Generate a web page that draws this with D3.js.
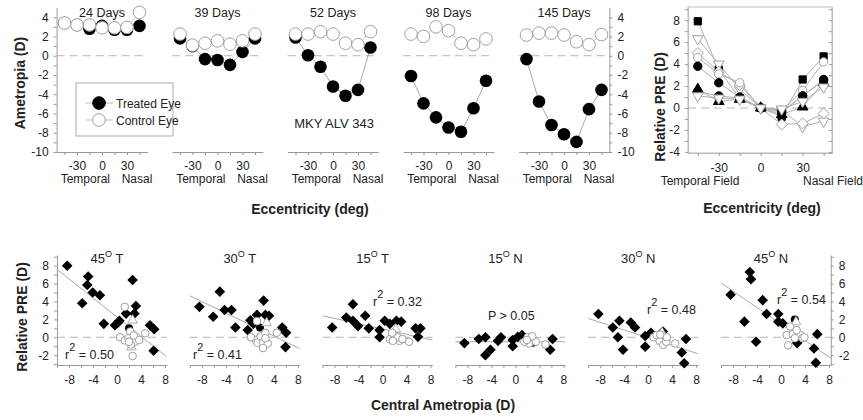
<!DOCTYPE html>
<html>
<head>
<meta charset="utf-8">
<script src="https://cdn.jsdelivr.net/npm/d3@7"></script>
<style>
body { margin: 0; background: #fff; }
text { font-family: "Liberation Sans", Arial, sans-serif; fill: #222; }
</style>
</head>
<body>
<div id="main"></div>
<script>
// ---- top row : ametropia vs eccentricity ----
const eccentricity = [-45, -30, -15, 0, 15, 30, 45];
const dayLabels = ["24 Days", "39 Days", "52 Days", "98 Days", "145 Days"];
const treatedEye = [
    [3.4, 3.2, 2.8, 3.1, 2.7, 2.7, 3.1],
    [1.8, 1.0, -0.35, -0.45, -0.95, 0.4, 1.8],
    [1.9, 0.05, -1.15, -3.2, -4.15, -3.55, 0.85],
    [-2.1, -4.95, -6.4, -7.45, -7.9, -5.45, -2.6],
    [-0.35, -4.75, -7.2, -8.15, -8.95, -5.55, -3.55]
];
const controlEye = [
    [3.4, 3.2, 3.2, 2.9, 2.9, 2.95, 4.5],
    [2.25, 1.1, 1.3, 1.55, 1.2, 1.55, 2.25],
    [2.25, 2.25, 2.5, 2.25, 1.3, 1.15, 2.5],
    [2.25, 2.0, 3.0, 2.6, 1.3, 1.15, 1.75],
    [2.15, 2.35, 2.35, 2.15, 1.45, 1.15, 2.2]
];

// ---- top right : relative PRE ----
const relativePRE = [
    [7.9, 3.5, 0.9, 0, -0.8, 2.6, 4.7],
    [6.3, 4.0, 1.7, 0, -0.2, -1.7, -1.2],
    [5.0, 3.3, 2.1, 0, -1.5, -1.4, -0.5],
    [4.6, 3.1, 2.3, 0, -0.2, 1.6, 4.2],
    [3.8, 2.3, 1.0, 0, -0.4, 1.1, 2.6],
    [1.7, 0.6, 0.8, 0, -0.6, 0.1, 2.3],
    [1.5, 1.1, 0.9, 0, -0.3, 1.1, 2.5],
    [1.1, 0.9, 0.8, 0, -0.1, 0.6, 1.9]
];

// ---- bottom row : relative PRE vs central ametropia ----
const sites = ["45", "30", "15", "15", "30", "45"];
const sides = ["T", "T", "T", "N", "N", "N"];
const rSquared = ["0.50", "0.41", "0.32", "P > 0.05", "0.48", "0.54"];
const fitSlope = [-0.535, -0.322, -0.148, 0, -0.215, -0.46];
const fitIntercept = [2.25, 1.42, 0.92, -0.5, -0.05, 1.48];
const treatedPts = [
    [[-8.3,8.0],[-4.8,6.8],[-4.95,5.85],[-5.8,3.8],[-4.05,5.0],[-2.85,4.7],[-2.2,1.5],[-0.35,1.35],[0.1,1.6],[0.4,1.85],[1.5,2.65],[2.6,6.4],[3.15,3.5],[2.9,2.65],[5.5,1.35],[6.2,0.9],[6.1,-1.5]],
    [[-8.4,3.4],[-6.1,2.3],[-5.0,5.1],[-4.2,3.05],[-3.05,3.05],[-2.4,1.1],[-0.35,0.8],[0.1,1.9],[1.2,2.5],[2.3,4.1],[2.6,2.5],[3.2,2.4],[5.4,1.1],[6.05,0.5],[5.95,-1.1],[0.6,1.5]],
    [[-8.4,1.1],[-6.05,2.2],[-4.95,3.7],[-4.95,1.85],[-4.1,1.25],[-2.9,2.4],[-2.3,1.0],[-0.5,0.8],[-0.5,0.0],[0.35,1.85],[1.2,1.5],[2.3,1.85],[3.1,1.75],[5.5,1.0],[6.3,1.0],[5.9,0.05]],
    [[-8.5,-0.65],[-6.1,-0.2],[-5.0,0.0],[-5.0,-2.0],[-4.15,-1.4],[-2.9,-0.4],[-2.4,0.0],[-0.45,-0.3],[-0.45,-1.0],[0.4,0.05],[1.1,0.25],[6.2,-0.2],[5.8,-1.4]],
    [[-8.3,2.6],[-5.9,1.1],[-4.8,1.85],[-5.05,0.0],[-4.2,-1.4],[-2.9,1.65],[-2.2,1.1],[-0.5,0.15],[-0.5,-1.05],[0.45,0.5],[2.45,0.65],[6.3,-0.2],[5.6,-1.7],[6.0,-2.9]],
    [[-8.4,4.75],[-6.1,1.75],[-5.2,7.3],[-5.0,6.5],[-3.05,4.15],[-4.15,-0.5],[-2.4,2.6],[-0.45,2.6],[-0.45,1.75],[0.3,1.55],[2.7,-0.65],[6.05,0.35],[5.5,-1.25],[5.8,-2.85]]
];
const controlPts = [
    [[1.3,3.4],[0.5,0.0],[1.3,-0.35],[2.2,0.65],[3.0,-0.5],[3.7,-0.3],[4.7,0.45],[2.6,-2.1],[1.9,-0.1],[2.3,-0.8],[2.8,0.2],[2.0,-0.5]],
    [[1.2,1.8],[1.0,-0.3],[1.8,0.1],[2.6,0.5],[0.2,0.0],[1.3,-0.6],[2.2,-0.6],[3.0,-0.7],[2.2,-1.2],[4.5,0.5],[2.6,-0.1]],
    [[1.2,-0.2],[2.0,0.2],[2.8,-0.4],[4.4,-0.5],[2.5,0.0],[1.7,-0.4],[3.3,-0.2],[1.6,0.5]],
    [[2.05,0.0],[2.3,-0.7],[3.4,-0.5],[5.0,-0.8],[1.5,-0.5],[2.8,0.1],[1.9,-0.3]],
    [[0.9,0.0],[1.9,-0.4],[2.5,-0.85],[3.0,-0.5],[4.5,-0.7],[1.4,0.25],[3.1,0.0],[2.0,0.3]],
    [[1.5,1.2],[0.95,0.25],[1.95,0.35],[3.2,0.25],[2.3,-0.1],[3.6,-0.1],[3.9,0.0],[1.2,-0.9],[2.6,0.8]]
];
const otherPts = [
    [[2.6,1.9],[2.4,-1.1]],
    [[2.8,1.6]],
    [[2.2,0.9]],
    [[2.4,-0.3]],
    [[2.3,0.5]],
    [[2.5,1.7]]
];
const hiddenPts = [
    [[2.0,1.0]],
    [[1.7,1.1]],
    [],
    [[2.9,-0.6]],
    [[3.0,-0.3]],
    [[2.3,2.0]]
];

const ctx = { w: 863, h: 420 };
const AXIS = "#999", LINE = "#aaa", FONT = "Liberation Sans, Arial, sans-serif";

function styleAxis(g, size) {
    g.attr("font-family", FONT).attr("font-size", size || 12);
    g.selectAll("path, line").attr("stroke", AXIS);
    g.selectAll("text").attr("fill", "#222");
}

function diamond(r) {
    return `M0,${-r}L${r},0L0,${r}L${-r},0Z`;
}

function zeroLine(g, x, y) {
    g.append("line")
        .attr("x1", x.range()[0]).attr("x2", x.range()[1])
        .attr("y1", y(0)).attr("y2", y(0))
        .attr("stroke", "#b5b5b5").attr("stroke-dasharray", "8,5");
}

function topPanels(svg) {
    const y = d3.scaleLinear().domain([-10, 5]).range([152, 7.6]);
    dayLabels.forEach((label, i) => {
        const cx = 102 + 115.5 * i;
        const x = d3.scaleLinear().domain([-54.5, 54.5]).range([cx - 45.4, cx + 45.4]);
        const g = svg.append("g");

        g.append("g").attr("transform", "translate(0,152)")
            .call(d3.axisBottom(x).tickValues(eccentricity).tickSize(3).tickSizeOuter(0).tickPadding(6)
                .tickFormat(d => [-30, 0, 30].includes(d) ? d : ""))
            .call(styleAxis);
        zeroLine(g, x, y);

        g.append("text").attr("x", cx).attr("y", 17).attr("text-anchor", "middle")
            .attr("font-size", 12.5).text(label);
        g.append("text").attr("x", x(-20)).attr("y", 183).attr("text-anchor", "middle")
            .attr("font-size", 12).text("Temporal");
        g.append("text").attr("x", x(42)).attr("y", 183).attr("text-anchor", "middle")
            .attr("font-size", 12).text("Nasal");

        const line = d3.line().x((d, k) => x(eccentricity[k])).y(d => y(d));
        g.append("path").attr("d", line(treatedEye[i])).attr("fill", "none").attr("stroke", LINE);
        g.append("path").attr("d", line(controlEye[i])).attr("fill", "none").attr("stroke", "#c8c8c8");

        g.selectAll(".tr").data(treatedEye[i]).enter().append("circle")
            .attr("cx", (d, k) => x(eccentricity[k])).attr("cy", d => y(d)).attr("r", 6.3)
            .attr("fill", "#000");
        g.selectAll(".ct").data(controlEye[i]).enter().append("circle")
            .attr("cx", (d, k) => x(eccentricity[k])).attr("cy", d => y(d)).attr("r", 6.3)
            .attr("fill", "#fff").attr("stroke", "#a0a0a0");

        const yTicks = d3.range(-10, 5, 1);
        if (i === 0) {
            svg.append("g").attr("transform", `translate(${x.range()[0]},0)`)
                .call(d3.axisLeft(y).tickValues(yTicks).tickSize(3).tickSizeOuter(0).tickPadding(5)
                    .tickFormat(d => d % 2 === 0 ? d : ""))
                .call(styleAxis);
        }
        if (i === dayLabels.length - 1) {
            svg.append("g").attr("transform", `translate(${x.range()[1]},0)`)
                .call(d3.axisRight(y).tickValues(yTicks).tickSize(3).tickSizeOuter(0).tickPadding(5)
                    .tickFormat(d => d % 2 === 0 ? d : ""))
                .call(styleAxis);
        }
    });

    // legend
    const lg = svg.append("g");
    lg.append("rect").attr("x", 76).attr("y", 83).attr("width", 97).attr("height", 53)
        .attr("fill", "#fff").attr("stroke", "#aaa");
    [["Treated Eye", "#000", "#000"], ["Control Eye", "#fff", "#a0a0a0"]].forEach((e, k) => {
        const yy = 103 + 17 * k;
        lg.append("line").attr("x1", 86).attr("x2", 113).attr("y1", yy).attr("y2", yy).attr("stroke", "#bbb");
        lg.append("circle").attr("cx", 99).attr("cy", yy).attr("r", 6.3).attr("fill", e[1]).attr("stroke", e[2]);
        lg.append("text").attr("x", 116).attr("y", yy + 4.5).attr("font-size", 12).text(e[0]);
    });

    svg.append("text").attr("x", 334).attr("y", 128).attr("text-anchor", "middle")
        .attr("font-size", 13).text("MKY ALV 343");
    svg.append("text").attr("transform", "translate(25,83) rotate(-90)").attr("text-anchor", "middle")
        .attr("font-size", 14).attr("font-weight", "bold").text("Ametropia (D)");
    svg.append("text").attr("x", 310).attr("y", 214).attr("text-anchor", "middle")
        .attr("font-size", 14).attr("font-weight", "bold").text("Eccentricity (deg)");
}

function prePanel(svg) {
    const x = d3.scaleLinear().domain([-52, 51]).range([688, 832]);
    const y = d3.scaleLinear().domain([-4.1, 9.2]).range([153, 7]);
    const g = svg.append("g");
    const kinds = ["square", "triDownOpen", "diamondOpen", "circleOpen", "circle", "triangle", "circle", "triDownOpen"];

    g.append("rect").attr("x", 688).attr("y", 7).attr("width", 144).attr("height", 146)
        .attr("fill", "none").attr("stroke", "#bbb");
    g.append("g").attr("transform", "translate(688,0)")
        .call(d3.axisLeft(y).tickValues(d3.range(-4, 10, 1)).tickSize(3).tickSizeOuter(0).tickPadding(5)
            .tickFormat(d => d % 2 === 0 && d <= 8 ? d : ""))
        .call(styleAxis);
    g.append("g").attr("transform", "translate(832,0)")
        .call(d3.axisLeft(y).tickValues(d3.range(-4, 10, 1)).tickSize(3).tickSizeOuter(0).tickFormat(""))
        .call(styleAxis);
    g.append("g").attr("transform", "translate(0,153)")
        .call(d3.axisBottom(x).tickValues(eccentricity).tickSize(3).tickSizeOuter(0).tickPadding(7)
            .tickFormat(d => [-30, 0, 30].includes(d) ? d : ""))
        .call(styleAxis);
    g.selectAll(".domain").attr("stroke", "#bbb");
    zeroLine(g, x, y);

    const line = d3.line().x((d, k) => x(eccentricity[k])).y(d => y(d));
    relativePRE.forEach(s => {
        g.append("path").attr("d", line(s)).attr("fill", "none").attr("stroke", "#b0b0b0");
    });
    relativePRE.forEach((s, si) => {
        const kind = kinds[si];
        const open = kind.endsWith("Open");
        let path;
        if (kind.startsWith("square")) path = d3.symbol(d3.symbolSquare, 52)();
        else if (kind.startsWith("triDown") || kind.startsWith("triangle")) path = d3.symbol(d3.symbolTriangle, 50)();
        else if (kind.startsWith("diamond")) path = diamond(5.5);
        else path = d3.symbol(d3.symbolCircle, 55)();
        const rot = kind.startsWith("triDown") ? 180 : 0;
        g.selectAll(null).data(s).enter().append("path")
            .attr("d", path)
            .attr("transform", (d, k) => `translate(${x(eccentricity[k])},${y(d)}) rotate(${rot})`)
            .attr("fill", open ? "#fff" : "#000")
            .attr("stroke", open ? "#a0a0a0" : "#000");
    });

    svg.append("text").attr("x", 700).attr("y", 185).attr("text-anchor", "middle")
        .attr("font-size", 12).text("Temporal Field");
    svg.append("text").attr("x", 833).attr("y", 185).attr("text-anchor", "middle")
        .attr("font-size", 12).text("Nasal Field");
    svg.append("text").attr("transform", "translate(665,107) rotate(-90)").attr("text-anchor", "middle")
        .attr("font-size", 14).attr("font-weight", "bold").text("Relative PRE (D)");
    svg.append("text").attr("x", 762).attr("y", 213).attr("text-anchor", "middle")
        .attr("font-size", 14).attr("font-weight", "bold").text("Eccentricity (deg)");
}

function bottomPanels(svg) {
    const y = d3.scaleLinear().domain([-3.1, 9.2]).range([365, 255]);
    const statPos = [[65, 359], [193, 359], [373, 306], [488, 320], [647, 314], [777, 304]];
    sites.forEach((site, i) => {
        const cx = 117 + 132.8 * i;
        const x = d3.scaleLinear().domain([-10, 8.3]).range([cx - 60, cx + 49.8]);
        const g = svg.append("g");

        g.append("g").attr("transform", "translate(0,365)")
            .call(d3.axisBottom(x).tickValues(d3.range(-10, 9, 2)).tickSize(3).tickSizeOuter(0).tickPadding(7)
                .tickFormat(d => d % 4 === 0 ? d : ""))
            .call(styleAxis);
        zeroLine(g, x, y);

        const title = g.append("text").attr("x", cx - 10).attr("y", 263).attr("text-anchor", "middle")
            .attr("font-size", 13);
        title.append("tspan").text(site);
        title.append("tspan").attr("dy", -6).attr("font-size", 9).text("O");
        title.append("tspan").attr("dy", 6).text(" " + sides[i]);

        const x0 = x.domain()[0], x1 = x.domain()[1];
        g.append("line")
            .attr("x1", x(x0)).attr("y1", y(fitIntercept[i] + fitSlope[i] * x0))
            .attr("x2", x(x1)).attr("y2", y(fitIntercept[i] + fitSlope[i] * x1))
            .attr("stroke", LINE);

        g.selectAll(null).data(treatedPts[i]).enter().append("path")
            .attr("d", diamond(5.3))
            .attr("transform", d => `translate(${x(d[0])},${y(d[1])})`)
            .attr("fill", "#000");
        g.selectAll(null).data(hiddenPts[i]).enter().append("circle")
            .attr("cx", d => x(d[0])).attr("cy", d => y(d[1])).attr("r", 4)
            .attr("fill", "#000");
        g.selectAll(null).data(otherPts[i]).enter().append("path")
            .attr("d", d3.symbol(d3.symbolTriangle, 40)())
            .attr("transform", d => `translate(${x(d[0])},${y(d[1])})`)
            .attr("fill", "#fff").attr("stroke", "#b0b0b0");
        g.selectAll(null).data(controlPts[i]).enter().append("circle")
            .attr("cx", d => x(d[0])).attr("cy", d => y(d[1])).attr("r", 3.8)
            .attr("fill", "#fff").attr("stroke", "#a0a0a0");

        const st = g.append("text").attr("x", statPos[i][0]).attr("y", statPos[i][1]).attr("font-size", 12.5);
        if (rSquared[i].startsWith("P")) {
            st.text(rSquared[i]);
        } else {
            st.append("tspan").text("r");
            st.append("tspan").attr("dy", -8).attr("font-size", 11).text("2");
            st.append("tspan").attr("dy", 8).text(" = " + rSquared[i]);
        }

        const yTicks = d3.range(-3, 10, 1);
        if (i === 0) {
            svg.append("g").attr("transform", `translate(${x.range()[0]},0)`)
                .call(d3.axisLeft(y).tickValues(yTicks).tickSize(3).tickSizeOuter(0).tickPadding(5)
                    .tickFormat(d => d % 2 === 0 ? d : ""))
                .call(styleAxis);
        }
        if (i === sites.length - 1) {
            svg.append("g").attr("transform", `translate(${x.range()[1]},0)`)
                .call(d3.axisRight(y).tickValues(yTicks).tickSize(3).tickSizeOuter(0).tickPadding(5)
                    .tickFormat(d => d % 2 === 0 ? d : ""))
                .call(styleAxis);
        }
    });

    svg.append("text").attr("transform", "translate(27,317) rotate(-90)").attr("text-anchor", "middle")
        .attr("font-size", 14).attr("font-weight", "bold").text("Relative PRE (D)");
    svg.append("text").attr("x", 443).attr("y", 410).attr("text-anchor", "middle")
        .attr("font-size", 14).attr("font-weight", "bold").text("Central Ametropia (D)");
}

function createViz() {
    const svg = d3.select("#main").append("svg")
        .attr("width", ctx.w)
        .attr("height", ctx.h);
    topPanels(svg);
    prePanel(svg);
    bottomPanels(svg);
}

createViz();
</script>
</body>
</html>
